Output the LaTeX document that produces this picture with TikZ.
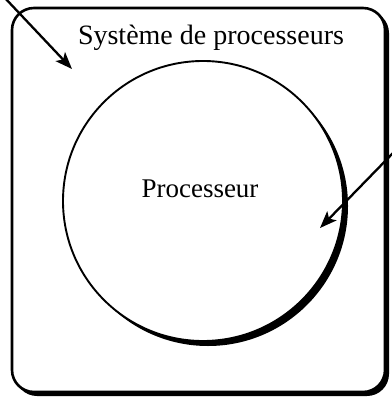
\documentclass[tikz,border=0pt]{standalone}
\usepackage{fontspec}
\setmainfont{Liberation Serif}
\usetikzlibrary{arrows.meta}
\begin{document}
\begin{tikzpicture}[x=1pt,y=-1pt,
  boxstyle/.style={draw=black,line width=2.6pt,rounded corners=22pt,fill=white},
  arr/.style={line width=2.3pt,-{Stealth[length=17pt,width=13pt,inset=4pt]}},
  lbl/.style={font=\fontsize{27}{30}\selectfont},
  titlelbl/.style={font=\fontsize{28}{31}\selectfont}]
\useasboundingbox (0,0) rectangle (391,398);
% box shadow
\fill[rounded corners=22pt] (15,11) rectangle (389,396);
\draw[boxstyle] (12,8) rectangle (385,392);
\node[titlelbl] (title) at (211,38) {Système de processeurs};
% circle shadow
\fill (208,206) circle (140);
\node[circle,draw,line width=1.9pt,fill=white,minimum size=280pt,inner sep=0pt] (proc) at (203,201) {};
\node[lbl] (plabel) at (200,189) {Processeur};
\coordinate (a1s) at (4,-3);
\coordinate (a1e) at (72,69);
\coordinate (a2s) at (394,152);
\coordinate (a2e) at (320,228);
\draw[arr] (a1s) -- (a1e);
\draw[arr] (a2s) -- (a2e);
\end{tikzpicture}
\end{document}
